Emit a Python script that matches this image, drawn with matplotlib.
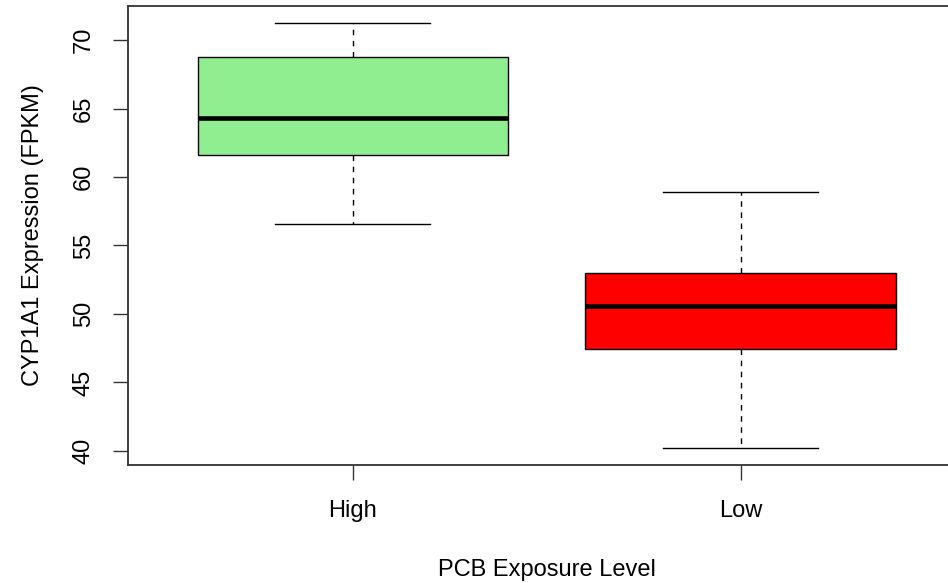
import matplotlib
matplotlib.use("Agg")
import matplotlib.pyplot as plt

categories = ["High", "Low"]
whisker_low = [56.58, 40.20]
q1 = [61.62, 47.43]
medians = [64.30, 50.57]
q3 = [68.76, 52.98]
whisker_high = [71.26, 58.92]
fill_colors = ["#90EE90", "#FF0000"]
y_ticks = [40, 45, 50, 55, 60, 65, 70]

plt.rcParams['font.family'] = ['Liberation Sans', 'DejaVu Sans']

W, H = 948, 583
FS = 17
fig = plt.figure(figsize=(W / 100, H / 100), dpi=100)
left_px, right_px, top_px, bottom_px = 127.7, 965.7, 5.8, 465.2
ax = fig.add_axes([left_px / W, 1 - bottom_px / H, (right_px - left_px) / W, (bottom_px - top_px) / H])

stats = []
for i, c in enumerate(categories):
    stats.append(dict(label=c, whislo=whisker_low[i], q1=q1[i], med=medians[i],
                      q3=q3[i], whishi=whisker_high[i], fliers=[]))

positions = [1, 2]
bp = ax.bxp(stats, positions=positions, widths=0.8, patch_artist=True,
            showfliers=False,
            boxprops=dict(edgecolor='black', linewidth=1.0),
            medianprops=dict(color='black', linewidth=3.3, solid_capstyle='butt'),
            whiskerprops=dict(color='black', linewidth=1.0, linestyle=(0, (4, 4))),
            capprops=dict(color='black', linewidth=1.0),
            capwidths=0.4)
for patch, col in zip(bp['boxes'], fill_colors):
    patch.set_facecolor(col)

ax.set_xlim(0.42, 2.58)
ax.set_ylim(38.96, 72.5)
ax.set_xticks(positions)
ax.set_xticklabels(categories)
ax.set_yticks(y_ticks)
ax.set_yticklabels([str(t) for t in y_ticks], rotation=90, va='center')

for s in ax.spines.values():
    s.set_color('#333333')
    s.set_linewidth(1.3)

ax.tick_params(axis='both', length=10.8, width=1.0, color='#333333', labelsize=FS)
ax.tick_params(axis='y', pad=13)
ax.tick_params(axis='x', pad=14)

fig.text(39 / W, 1 - 235.5 / H, "CYP1A1 Expression (FPKM)", rotation=90,
         rotation_mode='anchor', ha='center', va='baseline', fontsize=FS)
fig.text(546.7 / W, 1 - 576 / H, "PCB Exposure Level",
         ha='center', va='baseline', fontsize=FS)

fig.savefig("out.png", dpi=100)
